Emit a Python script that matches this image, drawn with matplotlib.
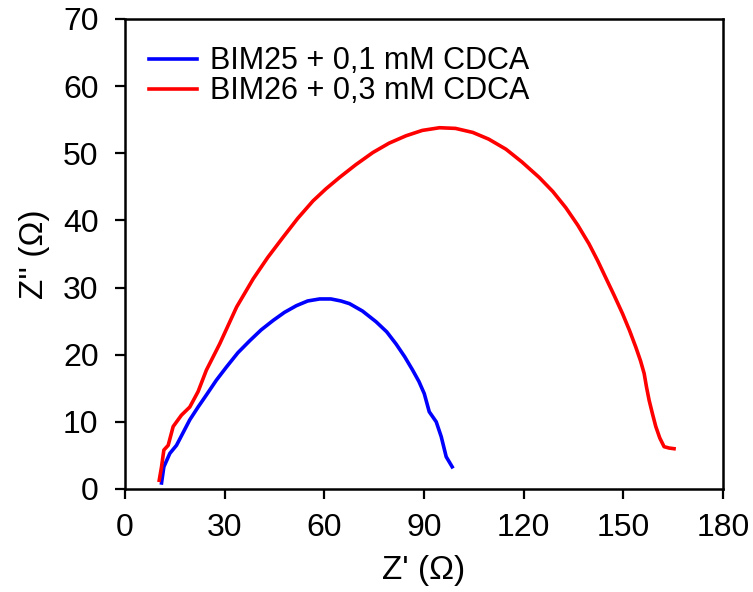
import matplotlib
matplotlib.use("Agg")
import matplotlib.pyplot as plt

plt.rcParams['font.family'] = ['Liberation Sans', 'DejaVu Sans']

# BIM25 + 0,1 mM CDCA
z_re_25 = [11.0, 11.7, 13.5, 15.5, 17.5, 19.5, 22.0, 24.5, 27.5, 30.6, 34.0, 37.6,
           41.0, 44.6, 48.0, 51.6, 55.0, 58.6, 62.0, 65.0, 67.6, 71.5, 75.6,
           78.8, 81.6, 84.2, 86.6, 88.5, 90.1, 91.6, 93.7, 95.2, 96.7, 98.5]
z_im_25 = [0.9, 3.3, 5.3, 6.5, 8.4, 10.3, 12.2, 14.0, 16.2, 18.2, 20.3, 22.1,
           23.7, 25.1, 26.3, 27.3, 28.0, 28.3, 28.3, 28.0, 27.6, 26.5, 24.9,
           23.4, 21.6, 19.7, 17.7, 16.0, 14.2, 11.5, 10.0, 7.8, 4.8, 3.3]

# BIM26 + 0,3 mM CDCA
z_re_26 = [10.3, 11.0, 11.7, 13.0, 14.5, 17.0, 19.5, 22.0, 24.5, 28.5, 33.6, 38.6,
           43.0, 47.6, 52.0, 56.6, 60.5, 64.6, 69.5, 74.6, 79.5, 84.6, 89.5,
           94.7, 99.5, 104.7, 109.5, 114.7, 119.5, 124.7, 128.8, 132.7, 136.3,
           139.7, 142.3, 144.7, 147.3, 149.8, 151.9, 153.8, 155.2, 156.3, 157.0,
           157.8, 158.8, 159.8, 161.0, 162.3, 163.8, 165.3]
z_im_26 = [1.3, 3.3, 5.8, 6.5, 9.3, 11.0, 12.2, 14.5, 17.7, 21.6, 27.1, 31.3,
           34.5, 37.5, 40.3, 42.9, 44.7, 46.4, 48.3, 50.1, 51.5, 52.6, 53.4,
           53.8, 53.7, 53.1, 52.1, 50.6, 48.7, 46.4, 44.3, 41.9, 39.3,
           36.5, 34.0, 31.5, 28.8, 26.1, 23.6, 21.1, 19.1, 17.2, 15.2,
           13.2, 11.2, 9.3, 7.6, 6.3, 6.1, 6.0]

fig = plt.figure(figsize=(7.53, 5.92), dpi=100)
ax = fig.add_axes([0.166, 0.174, 0.794, 0.794])

ax.plot(z_re_25, z_im_25, color='#0000ff', lw=2.6, label='BIM25 + 0,1 mM CDCA')
ax.plot(z_re_26, z_im_26, color='#ff0000', lw=2.6, label='BIM26 + 0,3 mM CDCA')

ax.set_xlim(0, 180)
ax.set_ylim(0, 70)
ax.set_xticks(range(0, 181, 30))
ax.set_yticks(range(0, 71, 10))
ax.tick_params(direction='out', length=7, width=1.6, labelsize=23)
ax.tick_params(axis='x', pad=10)
ax.tick_params(axis='y', pad=12)
for s in ax.spines.values():
    s.set_linewidth(1.8)

ax.set_xlabel("Z' (Ω)", fontsize=24, labelpad=9)
ax.set_ylabel("Z'' (Ω)", fontsize=24, labelpad=9)

ax.legend(loc='upper left', frameon=False, fontsize=22, handlelength=1.55,
          handletextpad=0.42, labelspacing=0.0, borderaxespad=0.2,
          bbox_to_anchor=(0.01, 0.981))

fig.savefig('out.png', dpi=100)
